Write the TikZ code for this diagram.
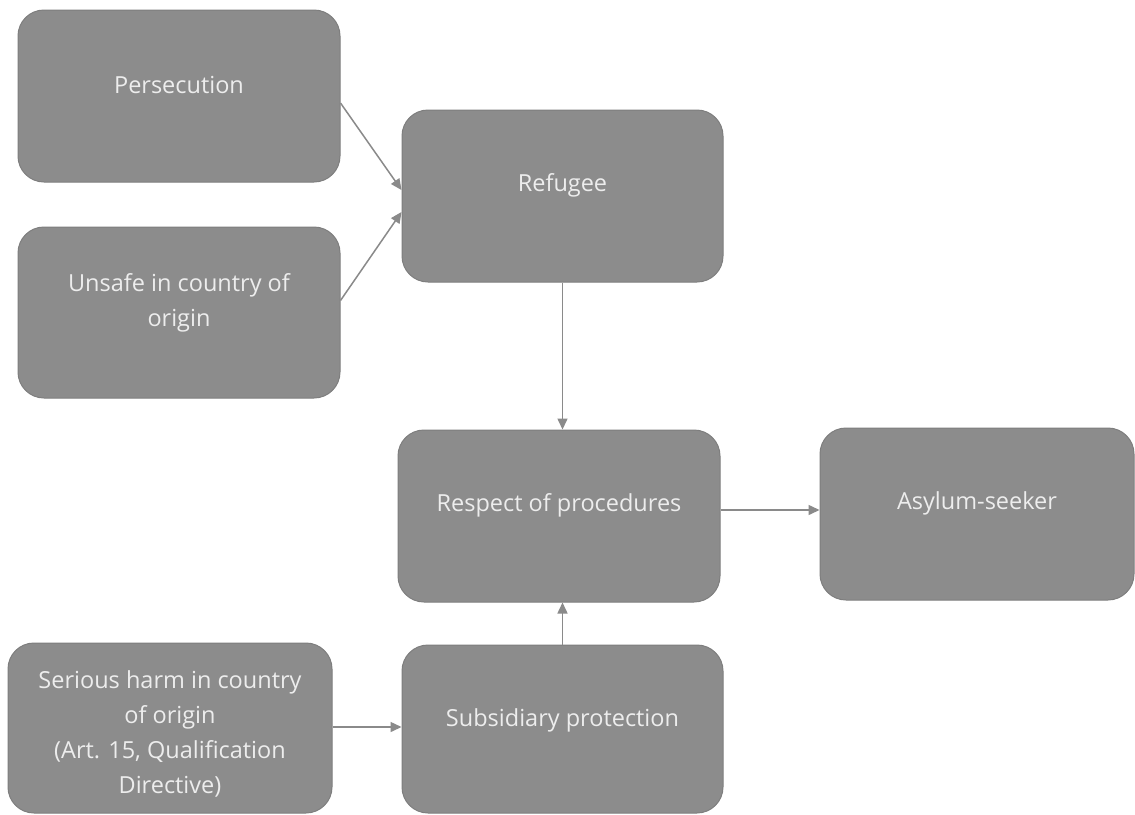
\documentclass[tikz,border=0pt]{standalone}
\usepackage{fontspec}
\setmainfont{Open Sans}
\usetikzlibrary{arrows.meta,calc}
\definecolor{boxfill}{HTML}{8C8C8C}
\definecolor{boxline}{HTML}{7E7E7E}
\definecolor{txtcol}{HTML}{EDEDED}
\definecolor{arrcol}{HTML}{8A8A8A}
\begin{document}
\begin{tikzpicture}[x=1pt,y=-1pt,
  box/.style={draw=boxline,fill=boxfill,line width=1pt,rounded corners=26pt,inner sep=0pt},
  txt/.style={text=txtcol,align=center,font=\fontsize{23.5}{35}\selectfont,inner sep=0pt},
  conn/.style={draw=arrcol,line width=1.5pt,-{Triangle[length=11pt,width=10pt]}}]
\useasboundingbox[fill=white] (0,0) rectangle (1135,814);
% boxes
\node[box,minimum width=322pt,minimum height=172pt] (pers) at (179,96) {};
\node[box,minimum width=322pt,minimum height=171pt] (unsafe) at (179,312.5) {};
\node[box,minimum width=321pt,minimum height=172pt] (ref) at (562.5,196) {};
\node[box,minimum width=322pt,minimum height=172pt] (resp) at (559,516) {};
\node[box,minimum width=314pt,minimum height=172pt] (asyl) at (977,514) {};
\node[box,minimum width=324pt,minimum height=170pt] (ser) at (170,728) {};
\node[box,minimum width=321pt,minimum height=168pt] (sub) at (562.5,729) {};
% texts
\node[txt] (perst) at ($(pers.center)+(0,-11)$) {Persecution};
\node[txt] (unsafet) at ($(unsafe.center)+(0,-10)$) {Unsafe in country of\\origin};
\node[txt] (reft) at ($(ref.center)+(0,-11)$) {Refugee};
\node[txt] (respt) at ($(resp.center)+(0,-11)$) {Respect of procedures};
\node[txt] (asylt) at ($(asyl.center)+(0,-11)$) {Asylum-seeker};
\node[txt] (sert) at ($(ser.center)+(0,6)$) {Serious harm in country\\of origin\\(Art. 15, Qualification\\Directive)};
\node[txt] (subt) at ($(sub.center)+(0,-9)$) {Subsidiary protection};
% connectors
\draw[conn] ($(pers.east)+(0,7)$) -- ($(ref.west)+(0,-6)$);
\draw[conn] ($(unsafe.east)+(0,-12)$) -- ($(ref.west)+(0,16)$);
\draw[conn] (ref.south) -- (resp.north -| ref.south);
\draw[conn] ($(resp.east)+(0,-6)$) -- ($(asyl.west)+(0,-4)$);
\draw[conn] ($(ser.east)+(0,-1)$) -- ($(sub.west)+(0,-2)$);
\draw[conn] (sub.north) -- (resp.south -| sub.north);
\end{tikzpicture}
\end{document}
